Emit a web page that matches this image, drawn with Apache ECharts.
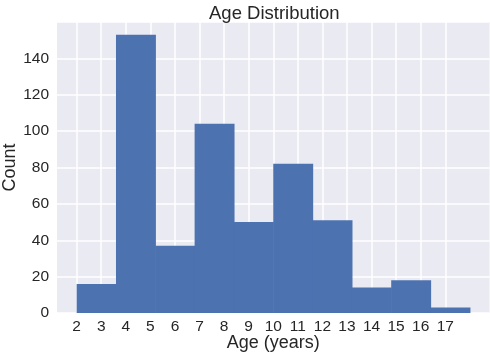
<!DOCTYPE html>
<html>
<head>
<meta charset="utf-8">
<script src="https://cdn.jsdelivr.net/npm/echarts@6/dist/echarts.min.js"></script>
<style>html,body{margin:0;padding:0;background:#fff}#c{width:490px;height:354px}</style>
</head>
<body>
<div id="c"></div>
<script>
var binEdges = [2, 3.6, 5.2, 6.8, 8.4, 10, 11.6, 13.2, 14.8, 16.4, 18];
var counts = [16, 153, 37, 104, 50, 82, 51, 14, 18, 3];
var xTicks = [2, 3, 4, 5, 6, 7, 8, 9, 10, 11, 12, 13, 14, 15, 16, 17];
var yTicks = [0, 20, 40, 60, 80, 100, 120, 140];

var data = counts.map(function (c, i) { return [binEdges[i], binEdges[i + 1], c]; });
var FONT = 'Liberation Sans, Arial, sans-serif';
var chart = echarts.init(document.getElementById('c'));
chart.setOption({
  animation: false,
  backgroundColor: '#ffffff',
  title: {
    text: 'Age Distribution', left: 204, top: -1,
    textStyle: { fontFamily: FONT, fontSize: 18.5, fontWeight: 'normal', color: '#262626' }
  },
  grid: { left: 57, right: 0.5, top: 22, bottom: 41, show: true, backgroundColor: '#EAEAF2', borderWidth: 0,
    containLabel: false, outerBoundsMode: 'none' },
  xAxis: {
    type: 'value', min: 1.2, max: 18.8,
    name: 'Age (years)', nameLocation: 'middle', nameGap: 21, nameMoveOverlap: false,
    nameTextStyle: { fontFamily: FONT, fontSize: 18, color: '#262626' },
    axisLine: { show: false }, axisTick: { show: false, customValues: xTicks },
    axisLabel: { customValues: xTicks, fontFamily: FONT, fontSize: 15.5, color: '#262626', margin: 6,
      formatter: function (v) { return String(v); } },
    splitLine: { show: true, lineStyle: { color: '#ffffff', width: 1.5 } }
  },
  yAxis: {
    type: 'value', min: 0, max: 160, interval: 20,
    name: 'Count', nameLocation: 'middle', nameGap: 38, nameRotate: 90, nameMoveOverlap: false,
    nameTextStyle: { fontFamily: FONT, fontSize: 18, color: '#262626' },
    axisLine: { show: false }, axisTick: { show: false },
    axisLabel: { fontFamily: FONT, fontSize: 15.5, color: '#262626', margin: 8, showMaxLabel: false,
      formatter: function (v) { return yTicks.indexOf(v) >= 0 ? String(v) : ''; } },
    splitLine: { show: true, lineStyle: { color: '#ffffff', width: 1.5 } }
  },
  series: [{
    type: 'custom',
    data: data,
    encode: { x: [0, 1], y: 2 },
    renderItem: function (params, api) {
      var p0 = api.coord([api.value(0), api.value(2)]);
      var p1 = api.coord([api.value(1), 0]);
      return {
        type: 'rect',
        shape: { x: p0[0], y: p0[1], width: p1[0] - p0[0] + 0.6, height: p1[1] - p0[1] },
        style: { fill: '#4C72B0' }
      };
    }
  }]
});
</script>
</body>
</html>
